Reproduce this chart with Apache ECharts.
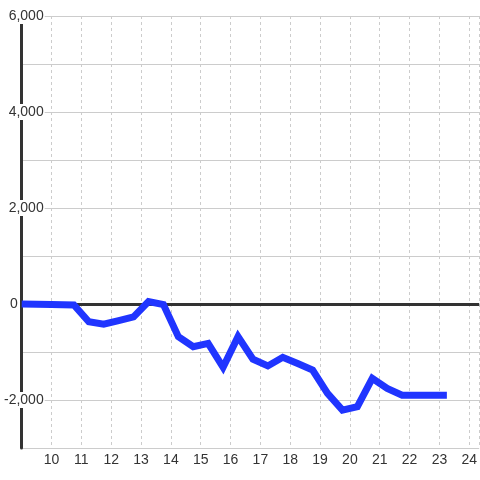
<!DOCTYPE html>
<html>
<head>
<meta charset="utf-8">
<script src="https://cdn.jsdelivr.net/npm/echarts@6/dist/echarts.min.js"></script>
<style>
html,body{margin:0;padding:0;background:#fff;}
#c{width:480px;height:480px;}
</style>
</head>
<body>
<div id="c"></div>
<script>
var xValues = [9.0, 10.0, 10.75, 11.25, 11.75, 12.25, 12.75, 13.25, 13.75, 14.25, 14.75, 15.25, 15.75, 16.25, 16.75, 17.25, 17.75, 18.25, 18.75, 19.25, 19.75, 20.25, 20.75, 21.25, 21.75, 22.25, 22.75, 23.25];
var yValues = [0, -10, -20, -370, -420, -345, -270, 50, -10, -680, -890, -820, -1320, -680, -1150, -1290, -1110, -1240, -1375, -1860, -2210, -2140, -1550, -1760, -1900, -1900, -1900, -1900];
var yLabelValues = [-2000, 0, 2000, 4000, 6000];

var data = xValues.map(function (x, i) { return [x, yValues[i]]; });

function fmt(v) {
  var s = Math.abs(v).toString().replace(/\B(?=(\d{3})+(?!\d))/g, ',');
  return (v < 0 ? '-' : '') + s;
}

var chart = echarts.init(document.getElementById('c'), null, {renderer: 'canvas'});
chart.setOption({
  backgroundColor: '#fff',
  animation: false,
  grid: {left: 20, top: 16, right: 0, bottom: 32, containLabel: false},
  xAxis: {
    type: 'value',
    min: 9,
    max: 24.333,
    interval: 1,
    axisLine: {show: false},
    axisTick: {show: false},
    axisLabel: {
      showMinLabel: false,
      showMaxLabel: false,
      color: '#333',
      fontSize: 14,
      fontFamily: 'Liberation Sans, Arial, sans-serif',
      margin: 5
    },
    splitLine: {show: true, lineStyle: {color: '#ccc', type: [3, 3], width: 1}}
  },
  yAxis: {
    type: 'value',
    min: -3000,
    max: 6000,
    interval: 1000,
    axisLine: {show: true, lineStyle: {color: '#333', width: 3}},
    axisTick: {show: false},
    axisLabel: {
      margin: -23,
      formatter: function (v) {
        if (yLabelValues.indexOf(v) < 0) return '';
        if (v === 0) return '{z|0}';
        return '{a|' + fmt(v) + '}';
      },
      rich: {
        a: {
          color: '#333',
          fontSize: 14,
          fontFamily: 'Liberation Sans, Arial, sans-serif',
          backgroundColor: '#fff',
          padding: [1, 1, 1, 1]
        },
        z: {
          color: '#333',
          fontSize: 14,
          fontFamily: 'Liberation Sans, Arial, sans-serif',
          padding: [1, 27, 1, 0]
        }
      }
    },
    splitLine: {show: true, lineStyle: {color: '#ccc', width: 1}}
  },
  series: [{
    type: 'line',
    data: data,
    showSymbol: false,
    symbol: 'none',
    lineStyle: {color: '#2035ff', width: 7, join: 'miter'},
    z: 3,
    markLine: {
      silent: true,
      symbol: ['none', 'none'],
      label: {show: false},
      lineStyle: {color: '#333', type: 'solid', width: 3},
      data: [{yAxis: 0}],
      z: 2
    }
  }]
});
</script>
</body>
</html>
